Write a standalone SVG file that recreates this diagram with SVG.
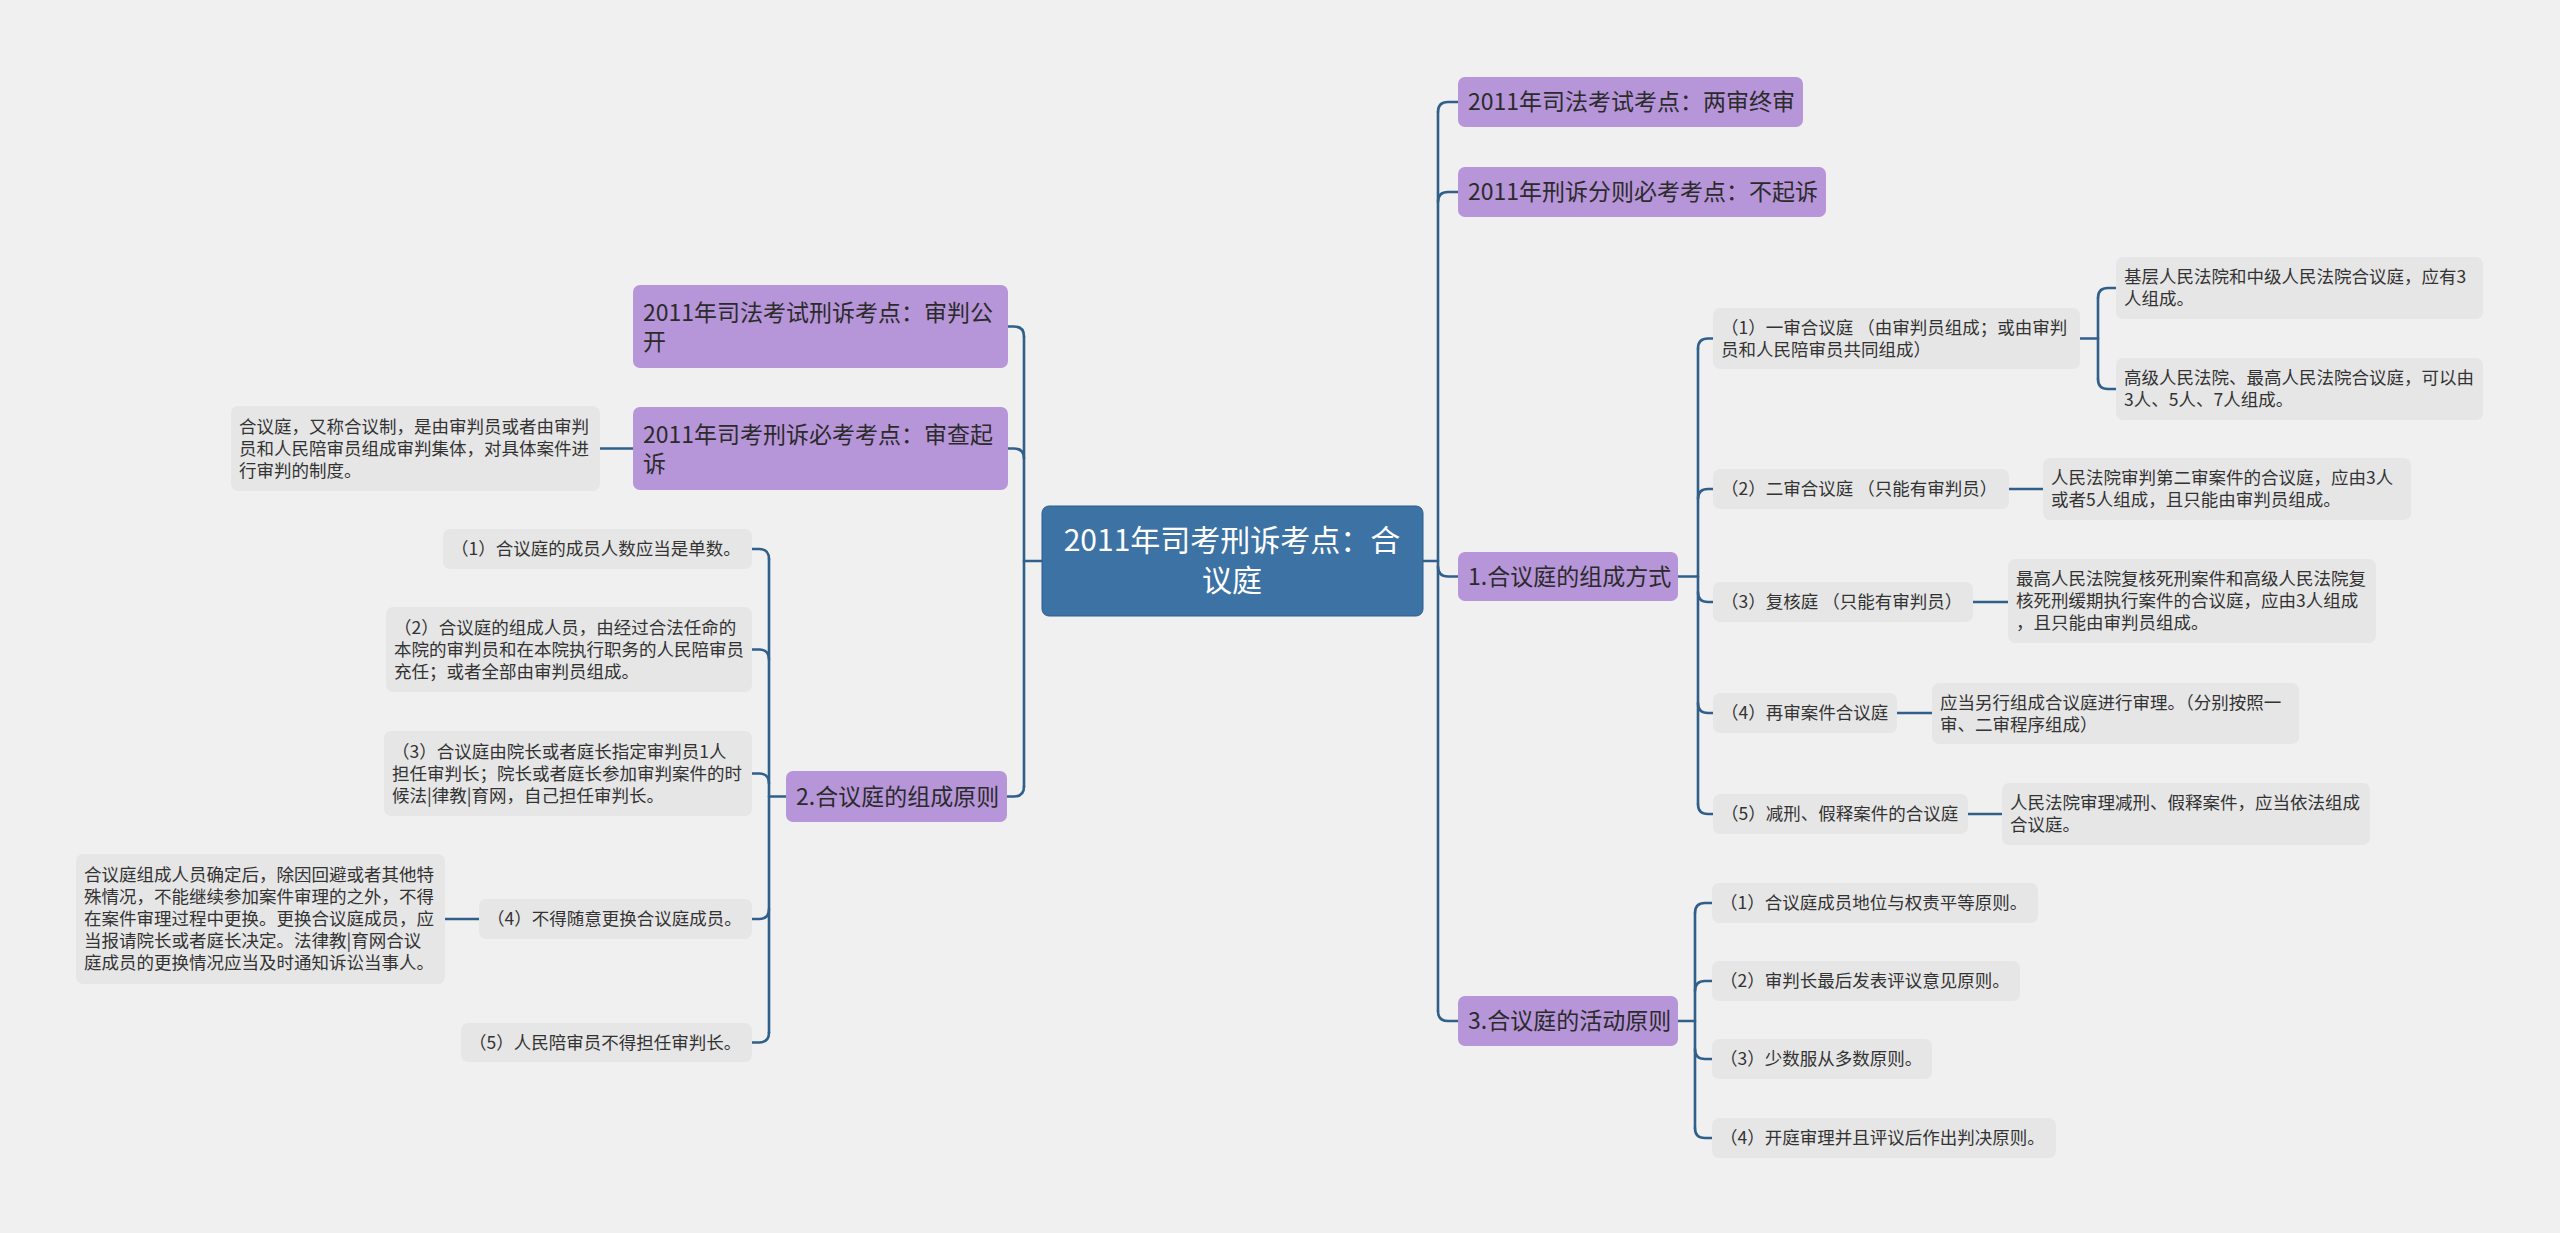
<svg xmlns="http://www.w3.org/2000/svg" width="2560" height="1233" viewBox="0 0 2560 1233">
<style>
.bg{fill:#f0f0f0}
.root rect{fill:#3d72a4;stroke:#2f5f8c;stroke-width:1}
.root text{fill:#ffffff;font-family:"Noto Sans CJK SC","Noto Sans",sans-serif;font-size:30px;text-anchor:middle}
.main rect{fill:#b795d9}
.main text{fill:#2b2b2b;font-family:"Noto Sans CJK SC","Noto Sans",sans-serif;font-size:23px}
.leaf rect{fill:#e6e6e6}
.leaf text{fill:#333333;font-family:"Noto Sans CJK SC","Noto Sans",sans-serif;font-size:17.5px}
#connectors path{fill:none;stroke:#2f5f8a;stroke-width:2.6;stroke-linecap:round}
</style>
<rect class="bg" x="0" y="0" width="2560" height="1233"/>

<g id="connectors">
<!-- right main -->
<path d="M1422 561 H1438"/>
<path d="M1438 112 V1011"/>
<path d="M1438 112 Q1438 102 1448 102 H1458"/>
<path d="M1438 202 Q1438 192 1448 192 H1458"/>
<path d="M1438 566.5 Q1438 576.5 1448 576.5 H1458"/>
<path d="M1438 1011 Q1438 1021 1448 1021 H1458"/>
<!-- left main -->
<path d="M1042 561 H1024"/>
<path d="M1024 336.5 V786.5"/>
<path d="M1024 336.5 Q1024 326.5 1014 326.5 H1007"/>
<path d="M1024 458.5 Q1024 448.5 1014 448.5 H1007"/>
<path d="M1024 786.5 Q1024 796.5 1014 796.5 H1007"/>
<path d="M633 448.5 H600"/>
<!-- 2. sub -->
<path d="M786 796.5 H769"/>
<path d="M769 559 V1032.5"/>
<path d="M769 559 Q769 549 759 549 H752"/>
<path d="M769 659.5 Q769 649.5 759 649.5 H752"/>
<path d="M769 783.5 Q769 773.5 759 773.5 H752"/>
<path d="M769 909 Q769 919 759 919 H752"/>
<path d="M769 1032.5 Q769 1042.5 759 1042.5 H752"/>
<path d="M479 919 H445"/>
<!-- 1. sub -->
<path d="M1678 576.5 H1698"/>
<path d="M1698 348.5 V804"/>
<path d="M1698 348.5 Q1698 338.5 1708 338.5 H1713"/>
<path d="M1698 499 Q1698 489 1708 489 H1713"/>
<path d="M1698 592 Q1698 602 1708 602 H1713"/>
<path d="M1698 703 Q1698 713 1708 713 H1713"/>
<path d="M1698 804 Q1698 814 1708 814 H1713"/>
<path d="M2080 338.5 H2098"/>
<path d="M2098 298 V379"/>
<path d="M2098 298 Q2098 288 2108 288 H2116"/>
<path d="M2098 379 Q2098 389 2108 389 H2116"/>
<path d="M2009 489 H2043"/>
<path d="M1973 602 H2008"/>
<path d="M1897 713 H1932"/>
<path d="M1968 814 H2002"/>
<!-- 3. sub -->
<path d="M1678 1021 H1695"/>
<path d="M1695 913 V1128"/>
<path d="M1695 913 Q1695 903 1705 903 H1712"/>
<path d="M1695 991 Q1695 981 1705 981 H1712"/>
<path d="M1695 1049 Q1695 1059 1705 1059 H1712"/>
<path d="M1695 1128 Q1695 1138 1705 1138 H1712"/>
</g>

<g id="root" class="root">
<rect x="1042" y="506" width="381" height="110" rx="7"/>
<text x="1232" y="551">2011年司考刑诉考点：合</text>
<text x="1232" y="591">议庭</text>
</g>

<g id="r1" class="main"><rect x="1458" y="77" width="345" height="50" rx="7"/><text x="1468" y="110">2011年司法考试考点：两审终审</text></g>
<g id="r2" class="main"><rect x="1458" y="167" width="368" height="50" rx="7"/><text x="1468" y="200">2011年刑诉分则必考考点：不起诉</text></g>
<g id="r3" class="main"><rect x="1458" y="552" width="220" height="49" rx="7"/><text x="1468" y="584.5">1.合议庭的组成方式</text></g>
<g id="r4" class="main"><rect x="1458" y="996" width="220" height="50" rx="7"/><text x="1468" y="1029">3.合议庭的活动原则</text></g>

<g id="l1" class="main"><rect x="633" y="285" width="375" height="83" rx="7"/><text x="643" y="321">2011年司法考试刑诉考点：审判公</text><text x="643" y="350">开</text></g>
<g id="l2" class="main"><rect x="633" y="407" width="375" height="83" rx="7"/><text x="643" y="442.5">2011年司考刑诉必考考点：审查起</text><text x="643" y="471.5">诉</text></g>
<g id="l3" class="main"><rect x="786" y="771" width="221" height="51" rx="7"/><text x="796" y="805">2.合议庭的组成原则</text></g>

<g id="l2a" class="leaf"><rect x="231" y="406" width="369" height="85" rx="7"/>
<text x="239" y="432.5">合议庭，又称合议制，是由审判员或者由审判</text>
<text x="239" y="454.5">员和人民陪审员组成审判集体，对具体案件进</text>
<text x="239" y="476.5">行审判的制度。</text></g>

<g id="c1" class="leaf"><rect x="443" y="529" width="309" height="40" rx="7"/><text x="451" y="555">（1）合议庭的成员人数应当是单数。</text></g>
<g id="c2" class="leaf"><rect x="386" y="607" width="366" height="85" rx="7"/>
<text x="394" y="633.5">（2）合议庭的组成人员，由经过合法任命的</text>
<text x="394" y="655.5">本院的审判员和在本院执行职务的人民陪审员</text>
<text x="394" y="677.5">充任；或者全部由审判员组成。</text></g>
<g id="c3" class="leaf"><rect x="384" y="731" width="368" height="85" rx="7"/>
<text x="392" y="757.5">（3）合议庭由院长或者庭长指定审判员1人</text>
<text x="392" y="779.5">担任审判长；院长或者庭长参加审判案件的时</text>
<text x="392" y="801.5">候法|律教|育网，自己担任审判长。</text></g>
<g id="c4" class="leaf"><rect x="479" y="899" width="273" height="40" rx="7"/><text x="487" y="925">（4）不得随意更换合议庭成员。</text></g>
<g id="c4a" class="leaf"><rect x="76" y="854" width="369" height="130" rx="7"/>
<text x="84" y="881">合议庭组成人员确定后，除因回避或者其他特</text>
<text x="84" y="903">殊情况，不能继续参加案件审理的之外，不得</text>
<text x="84" y="925">在案件审理过程中更换。更换合议庭成员，应</text>
<text x="84" y="947">当报请院长或者庭长决定。法律教|育网合议</text>
<text x="84" y="969">庭成员的更换情况应当及时通知诉讼当事人。</text></g>
<g id="c5" class="leaf"><rect x="461" y="1023" width="291" height="39" rx="7"/><text x="469" y="1048.5">（5）人民陪审员不得担任审判长。</text></g>

<g id="d1" class="leaf"><rect x="1713" y="308" width="367" height="61" rx="7"/>
<text x="1721" y="333.5">（1）一审合议庭 （由审判员组成；或由审判</text>
<text x="1721" y="355.5">员和人民陪审员共同组成）</text></g>
<g id="d1a" class="leaf"><rect x="2116" y="257" width="367" height="62" rx="7"/>
<text x="2124" y="283">基层人民法院和中级人民法院合议庭，应有3</text>
<text x="2124" y="305">人组成。</text></g>
<g id="d1b" class="leaf"><rect x="2116" y="358" width="367" height="62" rx="7"/>
<text x="2124" y="384">高级人民法院、最高人民法院合议庭，可以由</text>
<text x="2124" y="406">3人、5人、7人组成。</text></g>
<g id="d2" class="leaf"><rect x="1713" y="469" width="296" height="40" rx="7"/><text x="1721" y="495">（2）二审合议庭 （只能有审判员）</text></g>
<g id="d2a" class="leaf"><rect x="2043" y="458" width="368" height="62" rx="7"/>
<text x="2051" y="484">人民法院审判第二审案件的合议庭，应由3人</text>
<text x="2051" y="506">或者5人组成，且只能由审判员组成。</text></g>
<g id="d3" class="leaf"><rect x="1713" y="582" width="260" height="40" rx="7"/><text x="1721" y="608">（3）复核庭 （只能有审判员）</text></g>
<g id="d3a" class="leaf"><rect x="2008" y="559" width="368" height="84" rx="7"/>
<text x="2016" y="585">最高人民法院复核死刑案件和高级人民法院复</text>
<text x="2016" y="607">核死刑缓期执行案件的合议庭，应由3人组成</text>
<text x="2016" y="629">，且只能由审判员组成。</text></g>
<g id="d4" class="leaf"><rect x="1713" y="693" width="184" height="40" rx="7"/><text x="1721" y="719">（4）再审案件合议庭</text></g>
<g id="d4a" class="leaf"><rect x="1932" y="683" width="367" height="61" rx="7"/>
<text x="1940" y="708.5">应当另行组成合议庭进行审理。（分别按照一</text>
<text x="1940" y="730.5">审、二审程序组成）</text></g>
<g id="d5" class="leaf"><rect x="1713" y="794" width="255" height="40" rx="7"/><text x="1721" y="820">（5）减刑、假释案件的合议庭</text></g>
<g id="d5a" class="leaf"><rect x="2002" y="783" width="368" height="62" rx="7"/>
<text x="2010" y="809">人民法院审理减刑、假释案件，应当依法组成</text>
<text x="2010" y="831">合议庭。</text></g>

<g id="e1" class="leaf"><rect x="1712" y="883" width="326" height="40" rx="7"/><text x="1720" y="909">（1）合议庭成员地位与权责平等原则。</text></g>
<g id="e2" class="leaf"><rect x="1712" y="961" width="308" height="40" rx="7"/><text x="1720" y="987">（2）审判长最后发表评议意见原则。</text></g>
<g id="e3" class="leaf"><rect x="1712" y="1039" width="220" height="40" rx="7"/><text x="1720" y="1065">（3）少数服从多数原则。</text></g>
<g id="e4" class="leaf"><rect x="1712" y="1118" width="344" height="40" rx="7"/><text x="1720" y="1144">（4）开庭审理并且评议后作出判决原则。</text></g>
</svg>
